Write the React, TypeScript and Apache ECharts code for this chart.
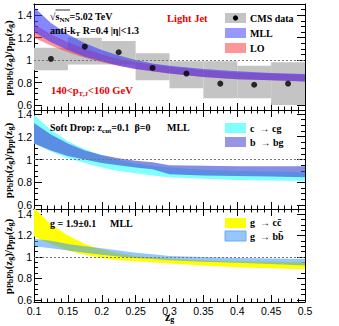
import React, { useEffect, useRef } from "react";
import * as echarts from "echarts";

// ---------------- data ----------------
const ZG = [0.1, 0.125, 0.15, 0.175, 0.2, 0.225, 0.25, 0.275, 0.3, 0.35, 0.4, 0.45, 0.5];

// panel 1: light jet, MLL and LO bands
const MLL_LOW = [1.25, 1.16, 1.09, 1.03, 0.99, 0.95, 0.92, 0.9, 0.88, 0.85, 0.83, 0.82, 0.81];
const MLL_HIGH = [1.47, 1.33, 1.23, 1.15, 1.09, 1.04, 1.0, 0.97, 0.95, 0.92, 0.9, 0.885, 0.875];
const LO_LOW = [1.2, 1.13, 1.07, 1.02, 0.98, 0.95, 0.92, 0.9, 0.88, 0.85, 0.83, 0.82, 0.81];
const LO_HIGH = [1.32, 1.23, 1.16, 1.1, 1.05, 1.01, 0.98, 0.96, 0.94, 0.91, 0.89, 0.88, 0.87];

// CMS data
const BIN_EDGES = [0.1, 0.15, 0.2, 0.25, 0.3, 0.35, 0.4, 0.45, 0.5];
const CMS_CENTERS = [0.125, 0.175, 0.225, 0.275, 0.325, 0.375, 0.425, 0.475];
const CMS_VALUES = [1.01, 1.12, 1.07, 0.93, 0.88, 0.79, 0.78, 0.79];
const CMS_SYS_LOW = [0.91, 0.96, 0.96, 0.82, 0.75, 0.66, 0.66, 0.6];
const CMS_SYS_HIGH = [1.11, 1.2, 1.17, 1.06, 0.99, 0.99, 0.95, 0.98];

// panel 2: heavy quark splittings
const CG_LOW = [1.14, 1.07, 1.01, 0.97, 0.93, 0.9, 0.88, 0.86, 0.845, 0.83, 0.82, 0.815, 0.81];
const CG_HIGH = [1.39, 1.26, 1.16, 1.09, 1.035, 0.995, 0.965, 0.945, 0.93, 0.91, 0.9, 0.895, 0.89];
const BG_LOW = [1.14, 1.08, 1.03, 1.0, 0.97, 0.95, 0.93, 0.915, 0.87, 0.86, 0.855, 0.85, 0.845];
const BG_HIGH = [1.32, 1.22, 1.14, 1.08, 1.04, 1.01, 0.99, 0.975, 0.95, 0.945, 0.94, 0.94, 0.94];

// panel 3: gluon splittings
const GCC_LOW = [1.19, 1.12, 1.06, 1.02, 0.99, 0.97, 0.96, 0.95, 0.94, 0.92, 0.905, 0.895, 0.885];
const GCC_HIGH = [1.46, 1.3, 1.2, 1.12, 1.07, 1.035, 1.01, 0.995, 0.98, 0.97, 0.96, 0.955, 0.95];
const GBB_LOW = [1.1, 1.08, 1.06, 1.04, 1.02, 1.005, 0.99, 0.98, 0.97, 0.955, 0.945, 0.935, 0.92];
const GBB_HIGH = [1.17, 1.15, 1.12, 1.1, 1.08, 1.06, 1.04, 1.025, 1.01, 1.0, 0.99, 0.985, 0.98];

// tick labels
const X_TICK_LABELS = [0.1, 0.15, 0.2, 0.25, 0.3, 0.35, 0.4, 0.45, 0.5];
const Y_TICK_LABELS = [0.6, 0.8, 1, 1.2, 1.4];
const REF_LEVEL = 1;

// ---------------- layout ----------------
const PLOT_LEFT = 34;
const PLOT_RIGHT = 305;
const PANELS = [
  { top: 4, bottom: 110, min: 0.555, max: 1.5 },
  { top: 110, bottom: 209, min: 0.565, max: 1.435 },
  { top: 209, bottom: 302, min: 0.58, max: 1.447 },
];

const SERIF = "'Liberation Serif', 'DejaVu Serif', serif";
const SANS = "'Liberation Sans', Arial, sans-serif";

const X_MINOR: number[] = [];
for (let k = 0; k < X_TICK_LABELS.length - 1; k++) {
  for (let j = 0; j < 5; j++) {
    X_MINOR.push(+(X_TICK_LABELS[k] + (j * (X_TICK_LABELS[k + 1] - X_TICK_LABELS[k])) / 5).toFixed(4));
  }
}
X_MINOR.push(X_TICK_LABELS[X_TICK_LABELS.length - 1]);

function yMinor(min: number, max: number) {
  const out: number[] = [];
  for (let k = 0; k < 40; k++) {
    const v = +(0.4 + k * 0.05).toFixed(3);
    if (v >= min - 1e-9 && v <= max + 1e-9) out.push(v);
  }
  return out;
}

const fmt = (v: number) => String(+Number(v).toFixed(3));
const black = { color: "#000", width: 1 };

function buildAxes() {
  const xAxes: any[] = [];
  const yAxes: any[] = [];
  PANELS.forEach((p, i) => {
    const xb = {
      type: "value", gridIndex: i, min: 0.1, max: 0.5,
      splitLine: { show: false }, axisLabel: { show: false },
      axisLine: { show: false }, axisTick: { show: false },
    };
    xAxes.push({
      ...xb, position: "bottom",
      axisLine: { show: true, onZero: false, lineStyle: black },
      axisTick: { show: true, inside: true, length: 7, customValues: X_TICK_LABELS, lineStyle: black },
      axisLabel: {
        show: i === 2, customValues: X_TICK_LABELS, formatter: fmt, margin: 3,
        fontSize: 10.5, color: "#000", fontFamily: SANS,
      },
    });
    xAxes.push({
      ...xb, position: "bottom",
      axisTick: { show: true, inside: true, length: 3.5, customValues: X_MINOR, lineStyle: black },
    });
    xAxes.push({
      ...xb, position: "top",
      axisLine: { show: true, onZero: false, lineStyle: black },
      axisTick: { show: i > 0, inside: true, length: 7, customValues: X_TICK_LABELS, lineStyle: black },
    });
    xAxes.push({
      ...xb, position: "top",
      axisTick: { show: i > 0, inside: true, length: 3.5, customValues: X_MINOR, lineStyle: black },
    });

    const yb = {
      type: "value", gridIndex: i, min: p.min, max: p.max,
      splitLine: { show: false }, axisLabel: { show: false },
      axisLine: { show: false }, axisTick: { show: false },
    };
    const ym = yMinor(p.min, p.max);
    yAxes.push({
      ...yb, position: "left",
      axisLine: { show: true, onZero: false, lineStyle: black },
      axisTick: { show: true, inside: true, length: 8, customValues: Y_TICK_LABELS, lineStyle: black },
      axisLabel: {
        show: true, customValues: Y_TICK_LABELS, formatter: fmt, margin: 2,
        fontSize: 10.5, color: "#000", fontFamily: SANS,
      },
    });
    yAxes.push({
      ...yb, position: "left",
      axisTick: { show: true, inside: true, length: 4, customValues: ym, lineStyle: black },
    });
    yAxes.push({
      ...yb, position: "right",
      axisLine: { show: true, onZero: false, lineStyle: black },
      axisTick: { show: true, inside: true, length: 8, customValues: Y_TICK_LABELS, lineStyle: black },
    });
    yAxes.push({
      ...yb, position: "right",
      axisTick: { show: true, inside: true, length: 4, customValues: ym, lineStyle: black },
    });
  });
  return { xAxes, yAxes };
}

const refLine = {
  silent: true, symbol: "none", label: { show: false },
  lineStyle: { color: "#777", type: [2, 2], width: 1 },
  data: [{ yAxis: REF_LEVEL }],
};

function bandSeries(panel: number, lo: number[], hi: number[], fill: string, z: number, extra: any = {}) {
  return {
    type: "custom", xAxisIndex: panel * 4, yAxisIndex: panel * 4, z, clip: true, silent: true,
    data: ZG.map((x, i) => [x, lo[i], hi[i]]),
    encode: { x: 0, y: [1, 2] },
    renderItem: (params: any, api: any) => {
      if (params.dataIndex !== 0) return { type: "group", children: [] };
      const upper = ZG.map((x, i) => api.coord([x, hi[i]]));
      const lower = ZG.map((x, i) => api.coord([x, lo[i]])).reverse();
      return { type: "polygon", shape: { points: upper.concat(lower) }, style: { fill } };
    },
    ...extra,
  };
}

// colours
const C_MLL = "rgba(60,60,255,0.62)";
const C_LO = "rgba(255,60,60,0.55)";
const C_CG = "rgb(128,255,255)";
const C_BG = "rgba(70,80,210,0.65)";
const C_GCC = "rgb(255,255,0)";
const C_GBB = "rgba(60,150,250,0.55)";

// rich text helper
function rich(size: number, color: string, lh = 4) {
  return {
    n: { fontSize: size, fontWeight: "bold", fontFamily: SERIF, fill: color, lineHeight: size + lh },
    s: {
      fontSize: Math.round(size * 0.7), fontWeight: "bold", fontFamily: SERIF, fill: color,
      lineHeight: Math.round(size * 0.65), verticalAlign: "bottom",
    },
  };
}
function txt(x: number, y: number, text: string, size = 10, color = "#000", lh = 4) {
  return {
    type: "text", x, y, silent: true, z: 100,
    style: { text, rich: rich(size, color, lh), fill: color, align: "left", verticalAlign: "middle" },
  };
}
function legendBox(y: number, fill: string, stroke?: string) {
  return {
    type: "rect", silent: true, z: 100,
    shape: { x: 225, y, width: 21, height: 10 },
    style: { fill, stroke: stroke || null, lineWidth: stroke ? 1 : 0 },
  };
}

const YTITLE = "{n|p}{s|PbPb}{n|(z}{s|g}{n|)/p}{s|pp}{n|(z}{s|g}{n|)}";

export default function App() {
  const ref = useRef<HTMLDivElement>(null);
  useEffect(() => {
    if (!ref.current) return;
    const chart = echarts.init(ref.current, undefined, { renderer: "svg" });
    const { xAxes, yAxes } = buildAxes();

    const series: any[] = [
      // panel 1
      {
        type: "custom", xAxisIndex: 0, yAxisIndex: 0, z: 1, clip: true, silent: true,
        data: CMS_CENTERS.map((c, i) => [BIN_EDGES[i], BIN_EDGES[i + 1], CMS_SYS_LOW[i], CMS_SYS_HIGH[i]]),
        encode: { x: [0, 1], y: [2, 3] },
        renderItem: (params: any, api: any) => {
          const a = api.coord([api.value(0), api.value(3)]);
          const b = api.coord([api.value(1), api.value(2)]);
          return {
            type: "rect",
            shape: { x: a[0], y: a[1], width: b[0] - a[0], height: b[1] - a[1] },
            style: { fill: "#c4c4c4" },
          };
        },
        markLine: refLine,
      },
      bandSeries(0, LO_LOW, LO_HIGH, C_LO, 3),
      bandSeries(0, MLL_LOW, MLL_HIGH, C_MLL, 4),
      {
        type: "scatter", xAxisIndex: 0, yAxisIndex: 0, z: 6, silent: true,
        symbol: "circle", symbolSize: 6, itemStyle: { color: "#000" },
        data: CMS_CENTERS.map((c, i) => [c, CMS_VALUES[i]]),
      },
      // panel 2
      bandSeries(1, CG_LOW, CG_HIGH, C_CG, 3, { markLine: refLine }),
      bandSeries(1, BG_LOW, BG_HIGH, C_BG, 4),
      // panel 3
      bandSeries(2, GCC_LOW, GCC_HIGH, C_GCC, 3, { markLine: refLine }),
      bandSeries(2, GBB_LOW, GBB_HIGH, C_GBB, 4),
    ];

    const graphic: any[] = [
      // panel 1 texts
      txt(50, 16, "{n|√s}{s|NN}{n|=5.02 TeV}", 10),
      {
        type: "line", silent: true, z: 100,
        shape: { x1: 55.5, y1: 10, x2: 70, y2: 10 },
        style: { stroke: "#000", lineWidth: 0.8 },
      },
      txt(50, 30, "{n|anti-k}{s|T}{n| R=0.4 |η|<1.3}", 10),
      txt(167, 18, "{n|Light Jet}", 10.5, "#e80000"),
      txt(51, 90, "{n|140<p}{s|T,J}{n|<160 GeV}", 10.5, "#e80000"),
      legendBox(13, "#c4c4c4"),
      { type: "circle", silent: true, z: 101, shape: { cx: 235.5, cy: 18, r: 2.6 }, style: { fill: "#000" } },
      txt(250, 18, "{n|CMS data}", 10),
      legendBox(28, "rgb(152,152,255)"),
      txt(250, 33, "{n|MLL}", 10),
      legendBox(43, "rgb(255,150,150)"),
      txt(250, 48, "{n|LO}", 10),
      // panel 2 texts
      txt(50, 127, "{n|Soft Drop: z}{s|cut}{n|=0.1  β=0}", 10),
      txt(167, 127, "{n|MLL}", 10),
      legendBox(123, C_CG),
      txt(250, 128, "{n|c  → cg}", 10),
      legendBox(137, "rgb(150,150,226)"),
      txt(250, 142, "{n|b  → bg}", 10),
      // panel 3 texts
      txt(50, 223, "{n|g = 1.9±0.1}", 10),
      txt(110, 223, "{n|MLL}", 10),
      legendBox(218, C_GCC),
      txt(250, 222, "{n|g  → cc\u0304}", 10),
      legendBox(231, "rgb(150,198,252)", "rgb(110,170,240)"),
      txt(250, 236, "{n|g  → bb\u0304}", 10),
      // axis titles
      txt(165, 317, "{n|z}{s|g}", 12, "#000", 0),
      ...PANELS.map((p) => ({
        type: "text", x: 8, y: (p.top + p.bottom) / 2 + 1, rotation: Math.PI / 2, silent: true, z: 100,
        style: { text: YTITLE, rich: rich(11, "#000", 1), fill: "#000", align: "center", verticalAlign: "middle" },
      })),
    ];

    chart.setOption({
      animation: false,
      backgroundColor: "#fff",
      textStyle: { fontFamily: SANS },
      grid: PANELS.map((p) => ({
        left: PLOT_LEFT, width: PLOT_RIGHT - PLOT_LEFT, top: p.top, height: p.bottom - p.top,
        show: false, containLabel: false, outerBoundsMode: "none",
      })),
      xAxis: xAxes,
      yAxis: yAxes,
      series,
      graphic,
    });
    return () => chart.dispose();
  }, []);
  return (
    <div
      ref={ref}
      style={{ position: "fixed", left: 0, top: 0, width: 339, height: 326, background: "#fff" }}
    />
  );
}
